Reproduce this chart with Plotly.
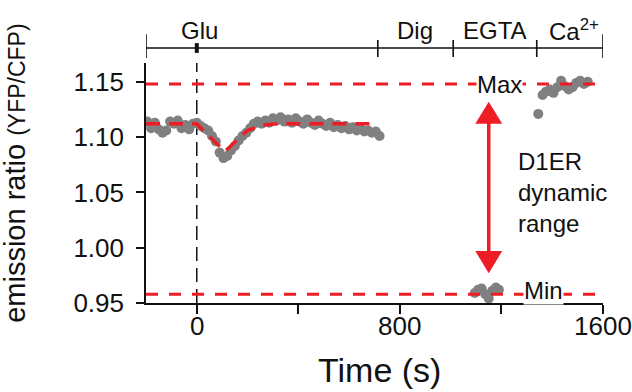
import plotly.graph_objects as go

# ---------------- data ----------------
base_t = [-195, -180, -165, -150, -135, -120, -105, -90, -75, -60, -45, -30, -15, 0,
          15, 30, 45, 60, 75, 90, 105, 120, 135, 150, 165, 180, 195, 210, 225, 240,
          255, 270, 285, 300, 315, 330, 345, 360, 375, 390, 405, 420, 435, 450, 465,
          480, 495, 510, 525, 540, 555, 570, 585, 600, 615, 630, 645, 660, 675, 690,
          705, 720]
base_v = [1.114, 1.108, 1.113, 1.107, 1.104, 1.106, 1.114, 1.112, 1.115, 1.108, 1.111,
          1.107, 1.112, 1.113, 1.110, 1.108, 1.106, 1.101, 1.096, 1.086, 1.081, 1.083,
          1.088, 1.092, 1.097, 1.101, 1.104, 1.108, 1.112, 1.114, 1.112, 1.115, 1.113,
          1.117, 1.115, 1.118, 1.114, 1.116, 1.113, 1.117, 1.114, 1.112, 1.116, 1.113,
          1.111, 1.115, 1.112, 1.110, 1.113, 1.109, 1.111, 1.108, 1.110, 1.107, 1.109,
          1.106, 1.108, 1.105, 1.106, 1.104, 1.105, 1.101]

fit_t = [-200, 0, 30, 60, 90, 111, 130, 160, 200, 260, 320, 705]
fit_v = [1.112, 1.112, 1.105, 1.098, 1.091, 1.087, 1.091, 1.098, 1.106, 1.111, 1.112, 1.112]

egta_t = [1095, 1108, 1122, 1136, 1150, 1164, 1178, 1190]
egta_v = [0.959, 0.962, 0.963, 0.958, 0.954, 0.961, 0.964, 0.962]

ca_t = [1345, 1362, 1375, 1390, 1405, 1420, 1435, 1450, 1465, 1480, 1495, 1510, 1525, 1540]
ca_v = [1.121, 1.138, 1.141, 1.143, 1.140, 1.145, 1.151, 1.146, 1.143, 1.145, 1.149,
        1.151, 1.148, 1.150]

max_level = 1.148
min_level = 0.958

x_tickvals = [0, 400, 800, 1200, 1600]
x_labelvals = [0, 800, 1600]
x_labeltext = ["0", "800", "1600"]
y_tickvals = [0.95, 1.00, 1.05, 1.10, 1.15]

# protocol bar (time boundaries) and labels
bar_start, bar_end = -200, 1600
bar_ticks = [713, 1010, 1339]
glu_time = 0
stage_labels = ["Glu", "Dig", "EGTA", "Ca<sup>2+</sup>"]
stage_label_t = [10, 860, 1176, 1485]

arrow_t = 1150
arrow_top = 1.132
arrow_bottom = 0.977

# ---------------- styles ----------------
FONT = "Liberation Sans, Arial, sans-serif"
RED = "#ee1c24"
GRAY = "#808080"
INK = "#111111"

fig = go.Figure()

for tt, vv in [(base_t, base_v), (egta_t, egta_v), (ca_t, ca_v)]:
    fig.add_trace(go.Scatter(x=tt, y=vv, mode="markers",
                             marker=dict(color=GRAY, size=10, line=dict(width=0)),
                             showlegend=False, hoverinfo="skip"))

fig.add_trace(go.Scatter(x=fit_t, y=fit_v, mode="lines",
                         line=dict(color=RED, width=3.5, dash="14px,9px"),
                         showlegend=False, hoverinfo="skip"))

shapes = []
# Max / Min lines
for lvl in (max_level, min_level):
    shapes.append(dict(type="line", xref="paper", yref="y", x0=0, x1=1, y0=lvl, y1=lvl,
                       line=dict(color=RED, width=3, dash="12px,11px"), layer="above"))
# vertical dashed line at Glu
shapes.append(dict(type="line", xref="x", yref="paper", x0=glu_time, x1=glu_time, y0=0, y1=1,
                   line=dict(color=INK, width=1.5, dash="14px,7px"), layer="below"))
# protocol bar
bar_y = 1.0625
shapes.append(dict(type="line", xref="x", yref="paper", x0=bar_start, x1=bar_end,
                   y0=bar_y, y1=bar_y, line=dict(color=INK, width=1.6)))
for xe in (bar_start, bar_end):
    shapes.append(dict(type="line", xref="x", yref="paper", x0=xe, x1=xe,
                       y0=1.021, y1=1.12, line=dict(color=INK, width=1.6)))
for xe in bar_ticks:
    shapes.append(dict(type="line", xref="x", yref="paper", x0=xe, x1=xe,
                       y0=1.025, y1=1.096, line=dict(color=INK, width=1.6)))
shapes.append(dict(type="line", xref="x", yref="paper", x0=glu_time, x1=glu_time,
                   y0=1.042, y1=1.083, line=dict(color=INK, width=4)))

# double-headed arrow
head_half = 53
head_len = 0.020
shapes.append(dict(type="line", xref="x", yref="y", x0=arrow_t, x1=arrow_t,
                   y0=arrow_top - head_len + 0.002, y1=arrow_bottom + head_len - 0.002,
                   line=dict(color=RED, width=3.5)))
shapes.append(dict(type="path", xref="x", yref="y",
                   path=f"M {arrow_t},{arrow_top} L {arrow_t - head_half},{arrow_top - head_len} "
                        f"L {arrow_t + head_half},{arrow_top - head_len} Z",
                   fillcolor=RED, line=dict(width=0)))
shapes.append(dict(type="path", xref="x", yref="y",
                   path=f"M {arrow_t},{arrow_bottom} L {arrow_t - head_half},{arrow_bottom + head_len} "
                        f"L {arrow_t + head_half},{arrow_bottom + head_len} Z",
                   fillcolor=RED, line=dict(width=0)))

annotations = []
for lab, tx in zip(stage_labels, stage_label_t):
    annotations.append(dict(text=lab, x=tx, y=1.1375, xref="x", yref="paper",
                            showarrow=False, xanchor="center", yanchor="middle",
                            font=dict(family=FONT, size=24, color=INK)))
for lab, tx in zip(x_labeltext, x_labelvals):
    annotations.append(dict(text=lab, x=tx, y=-0.096, xref="x", yref="paper",
                            showarrow=False, xanchor="center", yanchor="middle",
                            font=dict(family=FONT, size=26, color=INK)))
annotations.append(dict(text="Max", x=1192, y=max_level, xref="x", yref="y", showarrow=False,
                        xanchor="center", yanchor="middle", bgcolor="white", borderpad=0,
                        font=dict(family=FONT, size=24, color=INK)))
annotations.append(dict(text="Min", x=1366, y=0.961, xref="x", yref="y", showarrow=False,
                        xanchor="center", yanchor="middle", bgcolor="white", borderpad=0,
                        font=dict(family=FONT, size=24, color=INK)))
annotations.append(dict(text="D1ER<br>dynamic<br>range", x=1259, y=1.0495, xref="x", yref="y",
                        showarrow=False, xanchor="left", yanchor="middle", align="left",
                        font=dict(family=FONT, size=24, color=INK)))
annotations.append(dict(text="Time (s)", x=0.5115, y=-0.279, xref="paper", yref="paper",
                        showarrow=False, xanchor="center", yanchor="middle",
                        font=dict(family=FONT, size=34, color=INK)))
annotations.append(dict(text="emission ratio <span style='font-size:23px'>(YFP/CFP)</span>",
                        x=-0.287, y=0.5417, xref="paper", yref="paper", textangle=-90,
                        showarrow=False, xanchor="center", yanchor="middle",
                        font=dict(family=FONT, size=29, color=INK)))

fig.update_layout(
    width=632, height=392,
    margin=dict(l=146, r=29, t=63, b=89),
    paper_bgcolor="white", plot_bgcolor="white",
    shapes=shapes, annotations=annotations,
    xaxis=dict(range=[-200, 1600], tickvals=x_tickvals, showticklabels=False,
               automargin=False,
               showline=True, linecolor=INK, linewidth=1.6, ticks="outside", ticklen=9,
               tickwidth=1.6, tickcolor=INK, showgrid=False, zeroline=False),
    yaxis=dict(range=[0.95, 1.167], tickvals=y_tickvals, tickformat=".2f",
               automargin=False, ticklabelstandoff=7,
               showline=True, linecolor=INK, linewidth=1.6, ticks="outside", ticklen=8,
               tickwidth=1.6, tickcolor=INK, showgrid=False, zeroline=False,
               tickfont=dict(family=FONT, size=26, color=INK)),
)

fig.write_html("out.html")
